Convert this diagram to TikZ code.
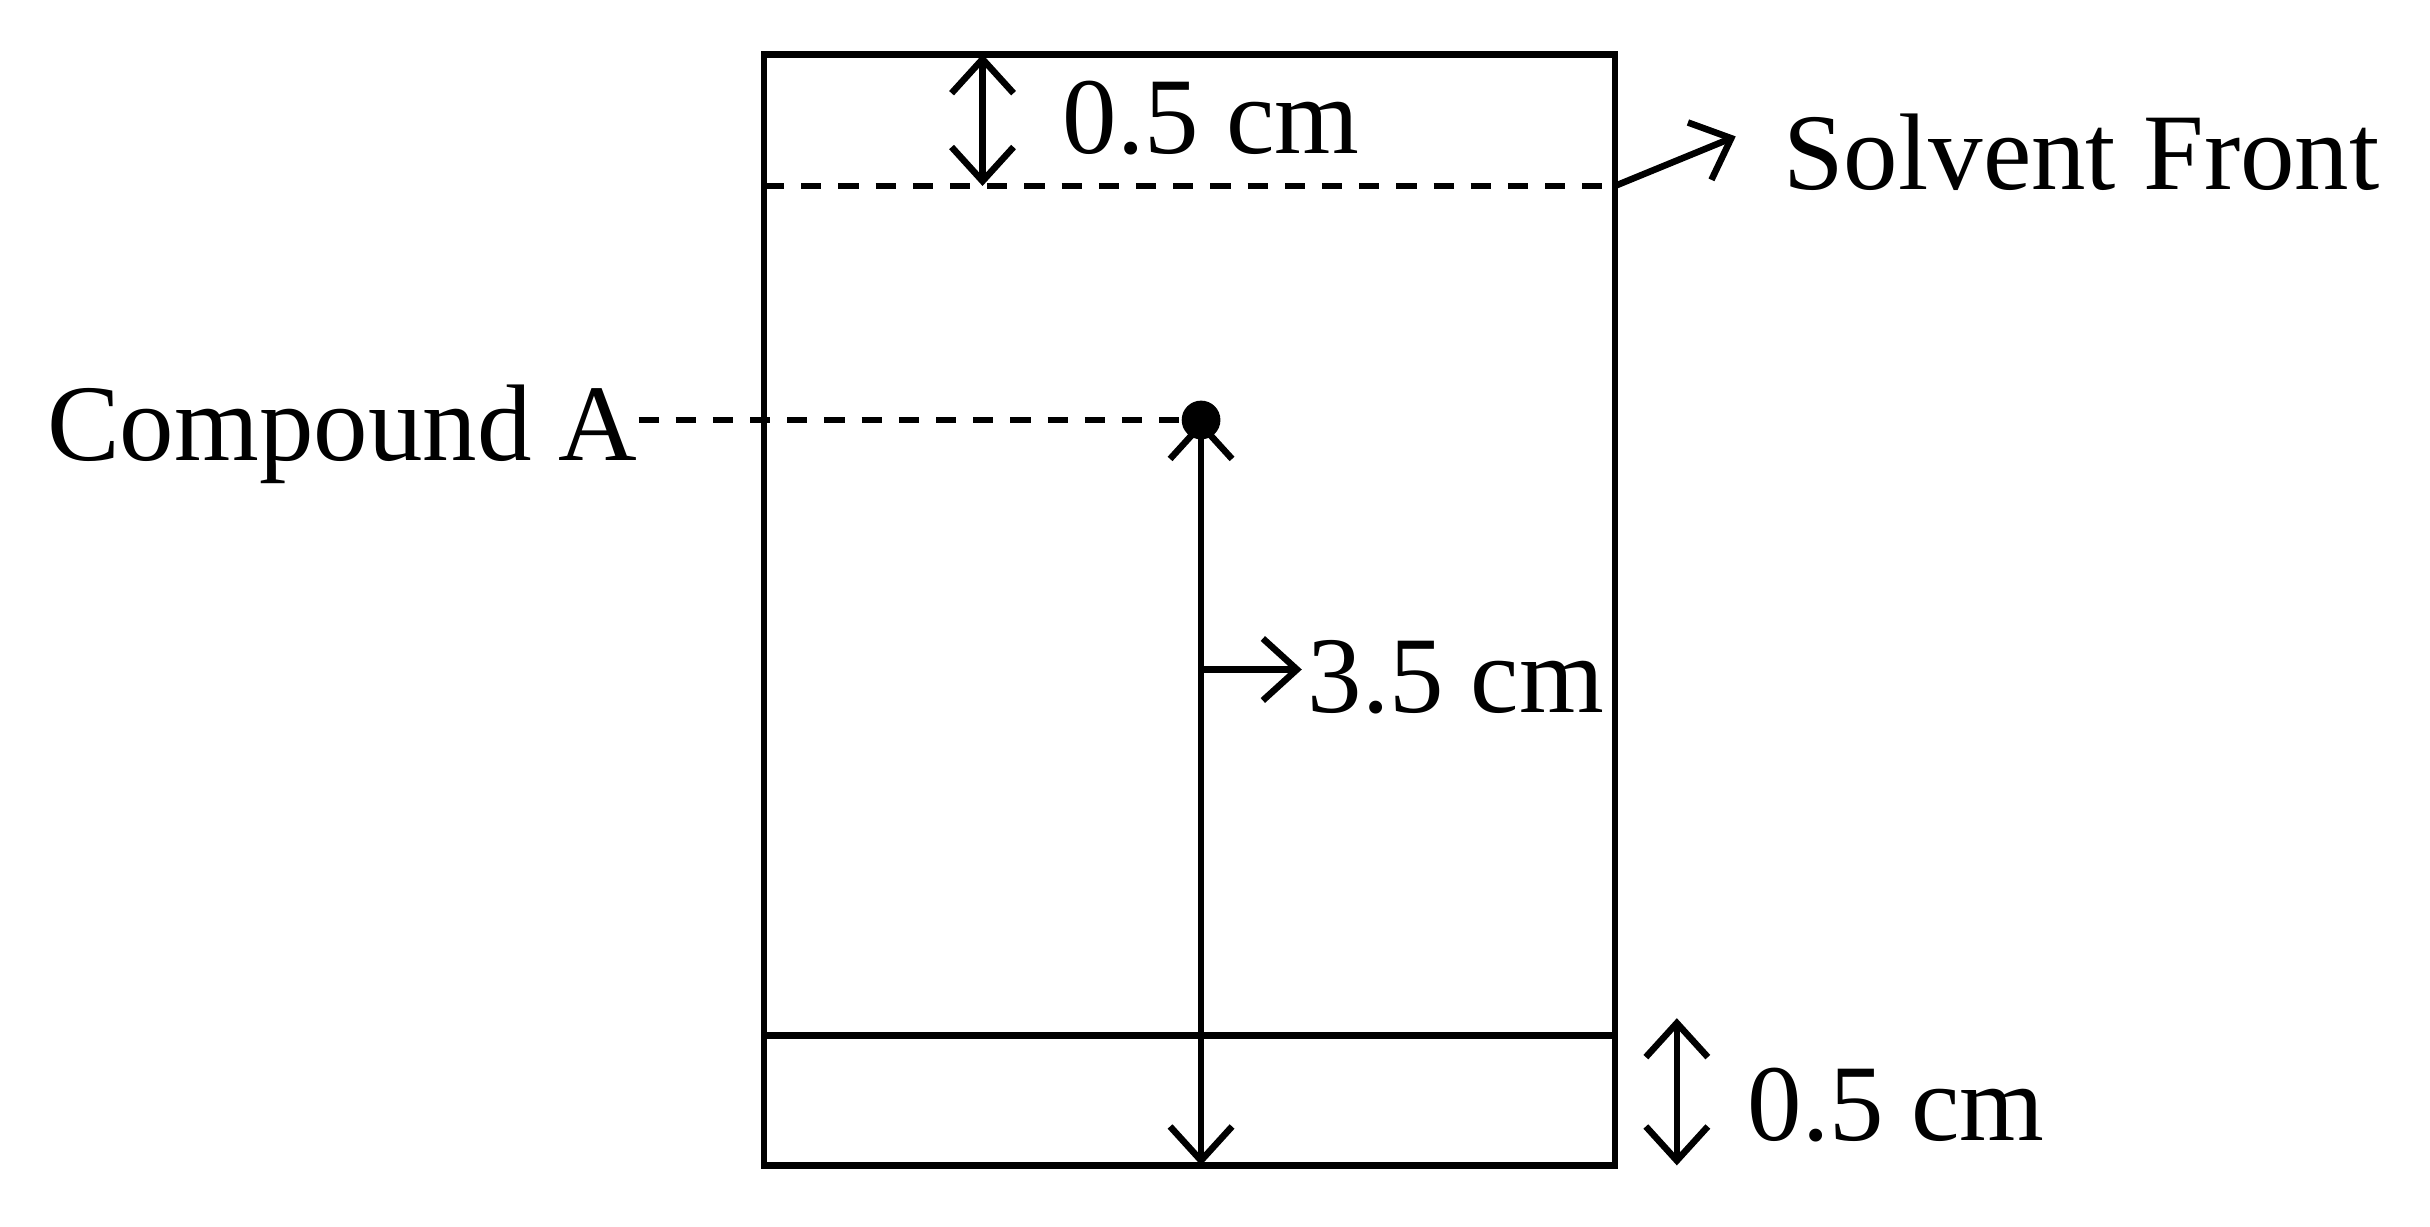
\documentclass[tikz,border=0pt]{standalone}
\usepackage{fontspec}
\setmainfont{Liberation Serif}
\usetikzlibrary{arrows.meta}

\begin{document}
\begin{tikzpicture}[
		>={Straight Barb[length=0.22cm,width=0.4cm]},
		line/.style={line width=1.2pt},
		front/.style={line width=1.2pt, dash pattern=on 0.13cm off 0.11cm},
		lbl/.style={inner sep=0pt, font=\fontsize{20}{24}\selectfont}
	]
		\useasboundingbox (0,0) rectangle (15.68,-7.911);

		% plate
		\draw [line] (4.93,-0.35) rectangle (10.42,-7.52);
		\coordinate (fl) at (4.93,-1.20);
		\coordinate (fr) at (10.42,-1.20);
		\coordinate (bl) at (4.93,-6.68);
		\coordinate (br) at (10.42,-6.68);
		\draw [front] (fl) -- (fr);
		\draw [line] (bl) -- (br);

		% spot
		\node [circle, fill, inner sep=0pt, minimum size=0.25cm] (spot) at (7.75,-2.71) {};
		\node [lbl, anchor=base east] (cpd) at (4.12,-2.97) {Compound A};
		\draw [front] (cpd.east |- spot) -- (spot.west);

		% distances
		\coordinate (top) at (6.34,-0.35);
		\draw [line, <->] (top) -- (top |- fl);
		\node [lbl, anchor=west] (top0) at (6.85,-0.76) {0.5 cm};

		\coordinate (sbot) at (7.75,-7.52);
		\draw [line, <->] (sbot) -- (spot.center);
		\coordinate (smid) at (7.75,-4.32);
		\coordinate (sarr) at (8.40,-4.32);
		\draw [line, ->] (smid) -- (sarr);
		\node [lbl, anchor=west] (dist) at (8.43,-4.37) {3.5 cm};

		\coordinate (rtop) at (10.82,-6.57);
		\coordinate (rbot) at (10.82,-7.52);
		\draw [line, <->] (rtop) -- (rbot);
		\node [lbl, anchor=west] (bot0) at (11.27,-7.13) {0.5 cm};

		\coordinate (fa) at (11.20,-0.88);
		\draw [line, ->] (fr) -- (fa);
		\node [lbl, anchor=west] (sf) at (11.50,-0.98) {Solvent Front};
	\end{tikzpicture}
\end{document}
